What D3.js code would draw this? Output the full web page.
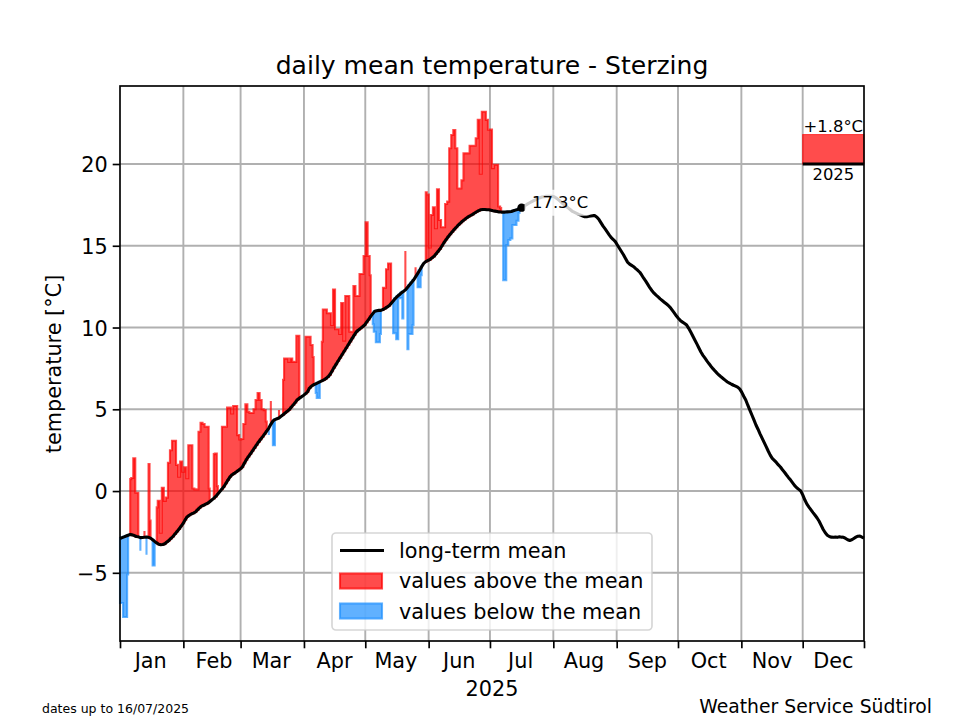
<!DOCTYPE html>
<html>
<head>
<meta charset="utf-8">
<script src="https://cdn.jsdelivr.net/npm/d3@7/dist/d3.min.js"></script>
<style>
html,body{margin:0;padding:0;background:#fff}
svg{display:block}
text{font-family:"DejaVu Sans";fill:#000}
</style>
</head>
<body>
<svg id="c" width="960" height="720"></svg>
<script>
const monthNames = ["Jan","Feb","Mar","Apr","May","Jun","Jul","Aug","Sep","Oct","Nov","Dec"];
const monthEdges = [0,31,59,90,120,151,181,212,243,273,304,334,364];
const monthLabelDays = [15,46,74,105,135,166,196,227,258,288,319,349];
const yTicks = [-5,0,5,10,15,20];
const yTickLabels = ["\u22125","0","5","10","15","20"];
const titleText = "daily mean temperature - Sterzing";
const yearLabel = "2025";
const yearAnomaly = 1.8;
const yearBase = 20;
const yearSpan = [334,364];
const lastLabel = "17.3°C";
const legendLabels = ["long-term mean","values above the mean","values below the mean"];

const longTermMean = [
-2.90,-2.85,-2.80,-2.75,-2.70,-2.65,-2.68,-2.72,-2.78,-2.80,
-2.85,-2.84,-2.83,-2.82,-2.83,-2.88,-2.98,-3.08,-3.17,-3.25,
-3.28,-3.27,-3.22,-3.12,-3.02,-2.90,-2.78,-2.62,-2.47,-2.32,
-2.15,-1.97,-1.75,-1.57,-1.48,-1.40,-1.35,-1.28,-1.15,-1.03,
-0.92,-0.87,-0.80,-0.75,-0.65,-0.55,-0.45,-0.33,-0.18,-0.03,
0.12,0.28,0.48,0.68,0.87,1.00,1.08,1.17,1.26,1.35,
1.47,1.70,1.92,2.10,2.28,2.46,2.64,2.82,3.00,3.17,
3.33,3.50,3.67,3.85,4.08,4.28,4.37,4.42,4.47,4.57,
4.67,4.77,4.87,4.97,5.12,5.27,5.42,5.58,5.68,5.76,
5.85,5.95,6.07,6.30,6.42,6.50,6.56,6.62,6.68,6.74,
6.80,6.87,6.98,7.12,7.33,7.55,7.75,7.95,8.15,8.35,
8.55,8.75,8.95,9.15,9.35,9.55,9.74,9.85,9.95,10.05,
10.15,10.33,10.50,10.68,10.85,11.00,11.03,11.05,11.05,11.10,
11.17,11.25,11.33,11.47,11.62,11.77,11.90,12.00,12.12,12.20,
12.30,12.45,12.60,12.75,12.90,13.10,13.30,13.50,13.72,13.92,
14.03,14.10,14.15,14.25,14.35,14.50,14.65,14.80,15.00,15.20,
15.38,15.55,15.70,15.85,16.00,16.13,16.27,16.38,16.50,16.60,
16.70,16.78,16.85,16.92,17.00,17.08,17.15,17.20,17.22,17.22,
17.20,17.20,17.17,17.14,17.12,17.10,17.07,17.06,17.06,17.06,
17.07,17.08,17.10,17.14,17.18,17.22,17.27,17.33,17.40,17.48,
17.56,17.63,17.70,17.76,17.82,17.88,17.94,17.98,18.00,18.02,
18.03,18.03,18.02,18.00,17.92,17.82,17.72,17.60,17.50,17.40,
17.30,17.20,17.10,17.04,16.98,16.92,16.87,16.82,16.78,16.78,
16.80,16.82,16.84,16.84,16.75,16.60,16.40,16.20,16.03,15.85,
15.67,15.50,15.38,15.25,15.05,14.85,14.65,14.45,14.22,14.00,
13.88,13.80,13.72,13.60,13.50,13.38,13.20,13.00,12.82,12.62,
12.42,12.25,12.10,11.98,11.87,11.75,11.65,11.55,11.45,11.35,
11.22,11.05,10.88,10.70,10.55,10.42,10.33,10.25,10.15,9.95,
9.72,9.48,9.24,9.00,8.75,8.50,8.30,8.13,7.95,7.78,
7.62,7.47,7.33,7.20,7.08,6.97,6.87,6.77,6.67,6.60,
6.53,6.47,6.42,6.36,6.25,6.05,5.80,5.57,5.25,4.95,
4.65,4.35,4.04,3.78,3.50,3.24,2.98,2.72,2.45,2.20,
2.00,1.88,1.75,1.60,1.47,1.30,1.15,0.98,0.82,0.67,
0.50,0.33,0.20,0.10,0.00,-0.25,-0.55,-0.80,-0.98,-1.15,
-1.32,-1.48,-1.65,-1.85,-2.10,-2.35,-2.55,-2.70,-2.78,-2.82,
-2.83,-2.82,-2.83,-2.80,-2.82,-2.83,-2.90,-2.98,-3.02,-2.98,
-2.90,-2.82,-2.76,-2.75,-2.82,-2.88
];

const dailyValues = [
-6.85,-6.85,-7.70,-7.70,-5.10,0.73,0.80,2.00,-0.10,-0.10,
-3.65,-2.84,-2.45,-3.90,1.65,-1.80,-4.55,-4.55,-1.00,-0.60,
-2.55,0.20,-0.60,-0.40,1.73,2.50,3.08,3.08,1.60,0.87,
1.80,1.18,1.45,0.78,2.80,2.80,0.16,0.10,0.10,3.63,
4.18,4.10,3.93,3.93,0.16,-0.55,2.26,2.30,0.30,-0.03,
3.93,3.93,3.93,5.10,5.10,4.75,5.20,5.20,3.42,3.16,
3.18,4.10,5.30,4.85,4.77,4.77,5.00,5.57,6.00,5.57,
5.00,4.95,4.25,3.42,5.50,2.80,2.80,4.42,4.95,4.57,
6.80,8.10,8.10,7.90,8.10,7.90,7.90,9.50,9.50,5.76,
5.85,9.44,9.44,9.44,8.93,8.20,6.00,5.70,5.70,9.13,
11.10,11.10,10.87,10.87,10.15,12.33,9.89,9.89,9.60,11.50,
9.20,11.93,11.93,9.74,9.74,12.54,11.93,11.93,13.27,13.27,
14.37,16.43,14.37,13.20,10.20,9.74,9.10,9.10,9.60,12.43,
12.43,13.56,13.92,13.92,9.65,9.65,9.28,11.80,11.80,10.56,
14.68,8.67,9.60,9.60,10.15,13.68,12.46,12.46,13.20,13.92,
18.27,18.14,14.90,16.88,17.35,16.07,18.45,16.58,16.13,16.13,
17.55,17.70,20.96,21.77,22.08,20.96,18.50,18.50,19.00,20.65,
20.65,20.65,21.12,21.12,21.12,21.57,22.70,19.40,23.20,23.20,
22.70,22.10,22.10,19.75,19.95,19.95,17.40,17.30,12.90,12.90,
15.04,15.35,15.45,16.27,16.27,16.53,17.00,17.33
];

const svg = d3.select("#c");
// the curves were read on a 0-365 sample grid; the calendar axis runs day 0-364
const x = d3.scaleLinear().domain([0,365]).range([120,864]);
const xCal = d3.scaleLinear().domain([0,364]).range([120,864]);
const y = d3.scaleLinear().domain([-9.17,24.77]).range([641,86]);

const GRID="#b0b0b0";
const gridG = svg.append("g");
gridG.selectAll("line.v").data(monthEdges.slice(1,-1)).join("line")
  .attr("x1",d=>xCal(d)).attr("x2",d=>xCal(d)).attr("y1",y.range()[1]).attr("y2",y.range()[0])
  .attr("stroke",GRID).attr("stroke-width",1.9);
gridG.selectAll("line.h").data(yTicks).join("line")
  .attr("x1",x.range()[0]).attr("x2",x.range()[1]).attr("y1",d=>y(d)).attr("y2",d=>y(d))
  .attr("stroke",GRID).attr("stroke-width",1.9);

const pts = dailyValues.map((v,i)=>({i,v,m:longTermMean[i]}));
function runs(test){
  const out=[];let cur=null;
  pts.forEach(p=>{
    if(test(p)){ if(!cur){cur=[];out.push(cur);} cur.push(p);} else cur=null;
  });
  return out;
}
const area = d3.area().x(d=>x(d.i)).y0(d=>y(d.m)).y1(d=>y(d.v)).curve(d3.curveStep);
const RED="rgb(255,0,0)", BLUE="rgb(30,144,255)";
function drawRuns(rs,col){
  svg.append("g").selectAll("path").data(rs).join("path")
    .attr("d",area).attr("fill",col).attr("fill-opacity",0.7)
    .attr("stroke",col).attr("stroke-opacity",0.7).attr("stroke-width",2.08)
    .attr("stroke-linejoin","miter").attr("stroke-miterlimit",10);
}
drawRuns(runs(p=>p.v>p.m),RED);
drawRuns(runs(p=>p.v<p.m),BLUE);

svg.append("path").attr("d",d3.line().x((d,i)=>x(i)).y(d=>y(d))(longTermMean))
  .attr("fill","none").attr("stroke","#000").attr("stroke-width",3.1).attr("stroke-linejoin","round");

const lastI = dailyValues.length-1;
svg.append("circle").attr("cx",x(lastI)).attr("cy",y(dailyValues[lastI])).attr("r",4.2).attr("fill","#000");

svg.append("rect").attr("x",x(lastI)+3).attr("y",y(dailyValues[lastI])-18).attr("width",68).attr("height",26)
  .attr("rx",6).attr("fill","#fff").attr("fill-opacity",0.8);
svg.append("text").attr("x",x(lastI)+10.5).attr("y",y(dailyValues[lastI])+0)
  .attr("font-size",16.4).text(lastLabel);

svg.append("rect").attr("x",xCal(yearSpan[0])).attr("width",xCal(yearSpan[1])-xCal(yearSpan[0]))
  .attr("y",y(yearBase+yearAnomaly)).attr("height",y(yearBase)-y(yearBase+yearAnomaly))
  .attr("fill",RED).attr("fill-opacity",0.7).attr("stroke",RED).attr("stroke-opacity",0.7).attr("stroke-width",1);
svg.append("line").attr("x1",xCal(yearSpan[0])).attr("x2",xCal(yearSpan[1])).attr("y1",y(yearBase)).attr("y2",y(yearBase))
  .attr("stroke","#000").attr("stroke-width",3.1);
svg.append("text").attr("x",xCal((yearSpan[0]+yearSpan[1])/2)).attr("y",y(yearBase+yearAnomaly)-3)
  .attr("text-anchor","middle").attr("font-size",16.4).text("+"+yearAnomaly.toFixed(1)+"°C");
svg.append("text").attr("x",xCal((yearSpan[0]+yearSpan[1])/2)).attr("y",y(yearBase)+16)
  .attr("text-anchor","middle").attr("font-size",16.4).text(yearLabel);

svg.append("rect").attr("x",120).attr("y",86).attr("width",744).attr("height",555)
  .attr("fill","none").attr("stroke","#000").attr("stroke-width",1.67);

const xAxis = d3.axisBottom(xCal).tickValues(monthEdges).tickSize(7.3).tickFormat("");
const xg = svg.append("g").attr("transform","translate(0,641)").call(xAxis);
xg.select(".domain").remove();
xg.selectAll("line").attr("stroke","#000").attr("stroke-width",1.67);
svg.append("g").selectAll("text").data(monthNames).join("text")
  .attr("x",(d,i)=>xCal(monthLabelDays[i])).attr("y",668)
  .attr("text-anchor","middle").attr("font-size",20.8).text(d=>d);

const yAxis = d3.axisLeft(y).tickValues(yTicks).tickSize(7.3).tickFormat((d,i)=>yTickLabels[i]);
const yg = svg.append("g").attr("transform","translate(120,0)").call(yAxis);
yg.select(".domain").remove();
yg.selectAll("line").attr("stroke","#000").attr("stroke-width",1.67);
yg.selectAll("text").attr("font-size",20.8).attr("font-family","DejaVu Sans").attr("fill","#000").attr("dx",-2).attr("dy","0.36em");

svg.append("text").attr("x",492).attr("y",74).attr("text-anchor","middle").attr("font-size",25.05).text(titleText);
svg.append("text").attr("x",492).attr("y",696).attr("text-anchor","middle").attr("font-size",20.8).text(yearLabel);
svg.append("text").attr("transform","translate(61,364) rotate(-90)").attr("text-anchor","middle").attr("font-size",20.8).text("temperature [°C]");
svg.append("text").attr("x",42).attr("y",713).attr("font-size",12.5).text("dates up to 16/07/2025");
svg.append("text").attr("x",932).attr("y",713).attr("text-anchor","end").attr("font-size",18.8).text("Weather Service Südtirol");

const lg = svg.append("g");
lg.append("rect").attr("x",332).attr("y",533).attr("width",320).attr("height",97).attr("rx",4)
  .attr("fill","#fff").attr("fill-opacity",0.8).attr("stroke","#ccc").attr("stroke-opacity",0.8).attr("stroke-width",1.67);
lg.append("line").attr("x1",340).attr("x2",384).attr("y1",550.5).attr("y2",550.5).attr("stroke","#000").attr("stroke-width",3.1);
[[RED,1],[BLUE,2]].forEach(([c,k])=>{
  lg.append("rect").attr("x",340).attr("y",543.5+k*30).attr("width",42).attr("height",15)
    .attr("fill",c).attr("fill-opacity",0.7).attr("stroke",c).attr("stroke-opacity",0.7).attr("stroke-width",2.08);
});
lg.selectAll("text").data(legendLabels).join("text")
  .attr("x",399).attr("y",(d,i)=>558+i*30.3).attr("font-size",20.8).text(d=>d);
</script>
</body>
</html>
